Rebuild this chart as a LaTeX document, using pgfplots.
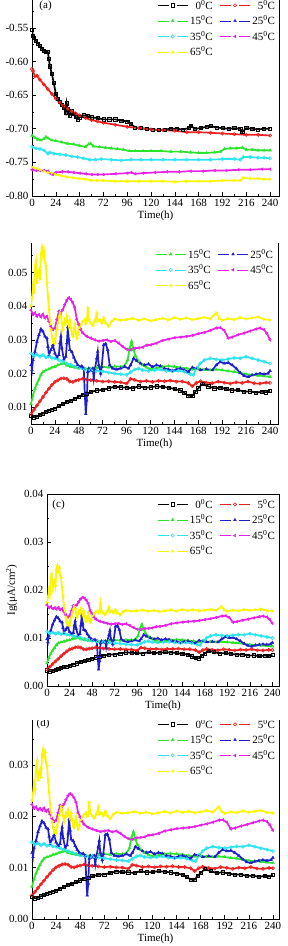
\documentclass[border=0pt]{standalone}
\usepackage{fontspec}
\setmainfont{Liberation Serif}
\usepackage{pgfplots}
\usepackage{pgfplotstable}
\pgfplotsset{compat=1.18}

\definecolor{cRed}{RGB}{238,32,32}
\definecolor{cGreen}{RGB}{45,228,45}
\definecolor{cBlue}{RGB}{30,30,205}
\definecolor{cCyan}{RGB}{45,228,240}
\definecolor{cMag}{RGB}{232,35,232}
\definecolor{cYel}{RGB}{250,246,0}

% ---------- potential (a) ----------
\pgfplotstableread{
t v
0 -0.553
1 -0.562
2 -0.565
4 -0.569
6 -0.573
8 -0.577
10 -0.581
12 -0.584
14 -0.586
16 -0.586
17 -0.596
18 -0.607
20 -0.618
22 -0.632
24 -0.648
26 -0.655
28 -0.660
30 -0.664
32 -0.668
34 -0.676
35 -0.662
36 -0.671
38 -0.680
40 -0.674
42 -0.678
44 -0.682
46 -0.686
48 -0.683
52 -0.680
56 -0.681
60 -0.683
66 -0.684
72 -0.686
78 -0.686
84 -0.686
90 -0.688
96 -0.689
100 -0.693
104 -0.698
110 -0.699
116 -0.700
122 -0.701
128 -0.702
134 -0.701
140 -0.700
146 -0.700
152 -0.701
158 -0.699
160 -0.695
164 -0.700
170 -0.699
176 -0.697
180 -0.696
186 -0.698
192 -0.699
198 -0.700
204 -0.699
210 -0.700
212 -0.705
216 -0.699
222 -0.700
228 -0.701
234 -0.700
240 -0.700
}\aZero
\pgfplotstableread{
t v
0 -0.611
1 -0.614
3 -0.622
5 -0.621
8 -0.627
12 -0.634
16 -0.641
20 -0.648
24 -0.655
28 -0.661
32 -0.666
36 -0.670
40 -0.674
44 -0.677
48 -0.680
54 -0.684
60 -0.687
66 -0.689
72 -0.691
84 -0.694
96 -0.697
108 -0.699
120 -0.701
132 -0.702
144 -0.703
156 -0.705
168 -0.705
180 -0.706
192 -0.707
204 -0.708
216 -0.709
228 -0.709
240 -0.710
}\aFive
\pgfplotstableread{
t v
0 -0.710
3 -0.713
6 -0.716
9 -0.717
12 -0.715
14 -0.712
16 -0.714
20 -0.717
24 -0.718
30 -0.720
36 -0.722
42 -0.723
48 -0.725
54 -0.727
57 -0.723
59 -0.722
62 -0.726
68 -0.727
74 -0.728
80 -0.729
86 -0.730
92 -0.731
98 -0.733
104 -0.733
112 -0.733
120 -0.733
130 -0.733
140 -0.734
150 -0.734
160 -0.735
168 -0.736
176 -0.736
184 -0.735
190 -0.734
194 -0.730
200 -0.729
206 -0.729
212 -0.728
216 -0.731
222 -0.731
228 -0.732
234 -0.732
240 -0.732
}\aFifteen
\pgfplotstableread{
t v
0 -0.727
4 -0.729
8 -0.730
12 -0.732
16 -0.737
18 -0.735
22 -0.737
28 -0.738
34 -0.739
40 -0.741
46 -0.742
52 -0.744
58 -0.746
64 -0.746
70 -0.745
80 -0.746
90 -0.747
100 -0.746
110 -0.746
120 -0.746
132 -0.746
144 -0.746
156 -0.746
168 -0.746
180 -0.746
192 -0.745
204 -0.745
210 -0.746
213 -0.742
220 -0.742
228 -0.743
234 -0.743
240 -0.744
}\aThirtyFive
\pgfplotstableread{
t v
0 -0.761
4 -0.762
8 -0.762
12 -0.762
16 -0.763
19 -0.767
21 -0.768
24 -0.765
30 -0.764
36 -0.764
42 -0.765
48 -0.766
54 -0.767
60 -0.768
66 -0.768
72 -0.768
84 -0.767
96 -0.766
100 -0.765
104 -0.767
112 -0.766
124 -0.765
136 -0.764
148 -0.764
160 -0.763
172 -0.763
184 -0.762
196 -0.762
208 -0.761
220 -0.761
232 -0.760
240 -0.760
}\aFortyFive
\pgfplotstableread{
t v
0 -0.757
4 -0.759
8 -0.761
12 -0.763
16 -0.765
20 -0.766
24 -0.768
30 -0.770
36 -0.772
42 -0.773
48 -0.774
54 -0.775
60 -0.777
66 -0.777
72 -0.777
84 -0.778
96 -0.778
108 -0.778
120 -0.778
132 -0.778
144 -0.779
156 -0.778
168 -0.778
180 -0.778
192 -0.777
204 -0.777
210 -0.777
213 -0.773
220 -0.774
228 -0.774
234 -0.775
240 -0.775
}\aSixtyFive

% ---------- current panels: columns b, c, d ----------
\pgfplotstableread{
t b c d
0 7.5e-3 3.26e-3 4.31e-3
3 7.0e-3 3.05e-3 4.03e-3
6 7.2e-3 3.13e-3 4.14e-3
9 7.7e-3 3.35e-3 4.43e-3
12 8.1e-3 3.52e-3 4.66e-3
15 8.6e-3 3.74e-3 4.95e-3
18 9.0e-3 3.92e-3 5.18e-3
21 9.3e-3 4.05e-3 5.35e-3
24 9.6e-3 4.18e-3 5.52e-3
28 10.3e-3 4.48e-3 5.92e-3
32 10.9e-3 4.74e-3 6.27e-3
36 11.6e-3 5.05e-3 6.67e-3
40 11.9e-3 5.18e-3 6.84e-3
44 12.5e-3 5.44e-3 7.19e-3
48 13.1e-3 5.70e-3 7.53e-3
52 13.7e-3 5.96e-3 7.88e-3
56 14.0e-3 6.09e-3 8.05e-3
60 14.5e-3 6.31e-3 8.34e-3
66 15.0e-3 6.53e-3 8.63e-3
72 15.1e-3 6.57e-3 8.68e-3
78 15.6e-3 6.79e-3 8.97e-3
84 16.1e-3 7.00e-3 9.26e-3
90 15.9e-3 6.92e-3 9.14e-3
96 15.8e-3 6.87e-3 9.09e-3
102 15.6e-3 6.79e-3 8.97e-3
108 16.2e-3 7.05e-3 9.32e-3
114 15.8e-3 6.87e-3 9.09e-3
120 15.9e-3 6.92e-3 9.14e-3
126 16.2e-3 7.05e-3 9.32e-3
132 16.0e-3 6.96e-3 9.20e-3
138 15.8e-3 6.87e-3 9.09e-3
144 15.4e-3 6.70e-3 8.86e-3
150 15.0e-3 6.53e-3 8.63e-3
154 14.2e-3 6.18e-3 8.17e-3
158 13.4e-3 5.83e-3 7.71e-3
162 13.3e-3 5.79e-3 7.65e-3
165 14.6e-3 6.35e-3 8.40e-3
168 15.6e-3 6.79e-3 8.97e-3
172 16.9e-3 7.35e-3 9.72e-3
178 16.2e-3 7.05e-3 9.32e-3
184 15.6e-3 6.79e-3 8.97e-3
190 15.8e-3 6.87e-3 9.09e-3
196 15.4e-3 6.70e-3 8.86e-3
202 15.0e-3 6.53e-3 8.63e-3
208 15.1e-3 6.57e-3 8.68e-3
214 14.6e-3 6.35e-3 8.40e-3
220 14.7e-3 6.39e-3 8.45e-3
226 14.3e-3 6.22e-3 8.22e-3
232 14.6e-3 6.35e-3 8.40e-3
236 14.4e-3 6.26e-3 8.28e-3
240 14.9e-3 6.48e-3 8.57e-3
}\tZero
\pgfplotstableread{
t b c d
0 8.0e-3 3.48e-3 4.60e-3
3 9.2e-3 4.00e-3 5.29e-3
6 10.5e-3 4.57e-3 6.04e-3
9 11.8e-3 5.13e-3 6.79e-3
12 13.0e-3 5.66e-3 7.48e-3
15 14.3e-3 6.22e-3 8.22e-3
18 15.5e-3 6.74e-3 8.91e-3
21 16.6e-3 7.22e-3 9.55e-3
24 17.5e-3 7.61e-3 10.06e-3
27 18.0e-3 7.83e-3 10.35e-3
30 18.5e-3 8.05e-3 10.64e-3
33 18.6e-3 8.09e-3 10.70e-3
36 18.4e-3 8.00e-3 10.58e-3
39 17.6e-3 7.66e-3 10.12e-3
42 17.5e-3 7.61e-3 10.06e-3
45 17.9e-3 7.79e-3 10.29e-3
48 18.1e-3 7.87e-3 10.41e-3
52 18.5e-3 8.05e-3 10.64e-3
56 18.2e-3 7.92e-3 10.47e-3
60 18.0e-3 7.83e-3 10.35e-3
66 17.8e-3 7.74e-3 10.24e-3
72 17.6e-3 7.66e-3 10.12e-3
78 17.7e-3 7.70e-3 10.18e-3
84 17.5e-3 7.61e-3 10.06e-3
90 17.4e-3 7.57e-3 10.01e-3
96 17.0e-3 7.40e-3 9.78e-3
100 18.4e-3 8.00e-3 10.58e-3
104 18.1e-3 7.87e-3 10.41e-3
110 17.6e-3 7.66e-3 10.12e-3
116 17.8e-3 7.74e-3 10.24e-3
122 17.5e-3 7.61e-3 10.06e-3
128 17.8e-3 7.74e-3 10.24e-3
134 17.7e-3 7.70e-3 10.18e-3
140 17.9e-3 7.79e-3 10.29e-3
146 17.6e-3 7.66e-3 10.12e-3
152 17.6e-3 7.66e-3 10.12e-3
158 17.2e-3 7.48e-3 9.89e-3
162 16.2e-3 7.05e-3 9.32e-3
166 17.2e-3 7.48e-3 9.89e-3
170 17.7e-3 7.70e-3 10.18e-3
176 17.3e-3 7.53e-3 9.95e-3
182 17.1e-3 7.44e-3 9.83e-3
188 17.6e-3 7.66e-3 10.12e-3
194 17.3e-3 7.53e-3 9.95e-3
200 17.0e-3 7.40e-3 9.78e-3
206 17.4e-3 7.57e-3 10.01e-3
212 17.2e-3 7.48e-3 9.89e-3
218 17.6e-3 7.66e-3 10.12e-3
224 17.1e-3 7.44e-3 9.83e-3
230 17.0e-3 7.40e-3 9.78e-3
236 17.3e-3 7.53e-3 9.95e-3
240 17.2e-3 7.48e-3 9.89e-3
}\tFive
\pgfplotstableread{
t b c d
0 11.0e-3 4.79e-3 6.33e-3
2 13.5e-3 5.87e-3 7.76e-3
4 15.5e-3 6.74e-3 8.91e-3
6 17.0e-3 7.40e-3 9.78e-3
8 18.3e-3 7.96e-3 10.52e-3
10 19.6e-3 8.53e-3 11.27e-3
12 20.5e-3 8.92e-3 11.79e-3
15 21.0e-3 9.14e-3 12.08e-3
18 21.3e-3 9.27e-3 12.25e-3
21 21.8e-3 9.48e-3 12.54e-3
24 22.0e-3 9.57e-3 12.65e-3
27 22.5e-3 9.79e-3 12.94e-3
30 22.8e-3 9.92e-3 13.11e-3
33 23.0e-3 10.01e-3 13.23e-3
36 22.4e-3 9.74e-3 12.88e-3
40 22.0e-3 9.57e-3 12.65e-3
44 21.8e-3 9.48e-3 12.54e-3
48 21.6e-3 9.40e-3 12.42e-3
54 21.5e-3 9.35e-3 12.36e-3
60 21.4e-3 9.31e-3 12.31e-3
66 21.7e-3 9.44e-3 12.48e-3
72 22.0e-3 9.57e-3 12.65e-3
78 21.8e-3 9.48e-3 12.54e-3
84 22.1e-3 9.61e-3 12.71e-3
90 22.0e-3 9.57e-3 12.65e-3
94 22.3e-3 9.70e-3 12.82e-3
97 24.0e-3 10.44e-3 13.80e-3
99 27.5e-3 11.96e-3 15.81e-3
101 29.5e-3 12.83e-3 16.96e-3
103 27.0e-3 11.75e-3 15.53e-3
105 25.2e-3 10.96e-3 14.49e-3
108 23.6e-3 10.27e-3 13.57e-3
112 22.5e-3 9.79e-3 12.94e-3
116 21.8e-3 9.48e-3 12.54e-3
120 21.2e-3 9.22e-3 12.19e-3
126 21.6e-3 9.40e-3 12.42e-3
132 22.0e-3 9.57e-3 12.65e-3
138 22.2e-3 9.66e-3 12.77e-3
144 22.0e-3 9.57e-3 12.65e-3
150 21.8e-3 9.48e-3 12.54e-3
156 21.5e-3 9.35e-3 12.36e-3
162 21.2e-3 9.22e-3 12.19e-3
168 21.4e-3 9.31e-3 12.31e-3
174 21.1e-3 9.18e-3 12.13e-3
180 21.0e-3 9.14e-3 12.08e-3
186 21.2e-3 9.22e-3 12.19e-3
192 21.0e-3 9.14e-3 12.08e-3
198 20.7e-3 9.00e-3 11.90e-3
204 20.5e-3 8.92e-3 11.79e-3
210 20.2e-3 8.79e-3 11.62e-3
216 19.8e-3 8.61e-3 11.39e-3
222 19.6e-3 8.53e-3 11.27e-3
228 19.4e-3 8.44e-3 11.16e-3
234 19.2e-3 8.35e-3 11.04e-3
240 19.0e-3 8.27e-3 10.93e-3
}\tFifteen
\pgfplotstableread{
t b c d
0 22.5e-3 9.79e-3 12.94e-3
1 21.0e-3 9.14e-3 12.08e-3
2 24.0e-3 10.44e-3 13.80e-3
4 26.5e-3 11.53e-3 15.24e-3
6 29.5e-3 12.83e-3 16.96e-3
8 31.5e-3 13.70e-3 18.11e-3
10 33.2e-3 14.44e-3 19.09e-3
12 32.5e-3 14.14e-3 18.69e-3
14 31.0e-3 13.49e-3 17.83e-3
16 30.5e-3 13.27e-3 17.54e-3
17 28.0e-3 12.18e-3 16.10e-3
18 25.5e-3 11.09e-3 14.66e-3
20 27.0e-3 11.75e-3 15.53e-3
22 28.5e-3 12.40e-3 16.39e-3
24 26.0e-3 11.31e-3 14.95e-3
26 24.8e-3 10.79e-3 14.26e-3
28 25.5e-3 11.09e-3 14.66e-3
29 29.0e-3 12.62e-3 16.68e-3
30 31.0e-3 13.49e-3 17.83e-3
31 27.5e-3 11.96e-3 15.81e-3
33 24.2e-3 10.53e-3 13.92e-3
35 25.0e-3 10.88e-3 14.38e-3
36 29.0e-3 12.62e-3 16.68e-3
37 33.8e-3 14.70e-3 19.44e-3
38 30.0e-3 13.05e-3 17.25e-3
39 27.0e-3 11.75e-3 15.53e-3
41 26.5e-3 11.53e-3 15.24e-3
43 24.8e-3 10.79e-3 14.26e-3
45 23.5e-3 10.22e-3 13.51e-3
47 22.5e-3 9.79e-3 12.94e-3
49 22.0e-3 9.57e-3 12.65e-3
51 22.2e-3 9.66e-3 12.77e-3
53 21.5e-3 9.35e-3 12.36e-3
54 14.0e-3 6.09e-3 8.05e-3
55 8.0e-3 3.48e-3 4.60e-3
56 12.0e-3 5.22e-3 6.90e-3
57 20.5e-3 8.92e-3 11.79e-3
58 21.5e-3 9.35e-3 12.36e-3
60 20.8e-3 9.05e-3 11.96e-3
62 21.5e-3 9.35e-3 12.36e-3
63 18.5e-3 8.05e-3 10.64e-3
64 21.0e-3 9.14e-3 12.08e-3
66 24.5e-3 10.66e-3 14.09e-3
67 26.5e-3 11.53e-3 15.24e-3
68 22.5e-3 9.79e-3 12.94e-3
70 20.0e-3 8.70e-3 11.50e-3
71 22.0e-3 9.57e-3 12.65e-3
73 28.5e-3 12.40e-3 16.39e-3
75 28.8e-3 12.53e-3 16.56e-3
77 27.0e-3 11.75e-3 15.53e-3
79 22.5e-3 9.79e-3 12.94e-3
82 21.5e-3 9.35e-3 12.36e-3
86 21.2e-3 9.22e-3 12.19e-3
90 21.5e-3 9.35e-3 12.36e-3
94 22.0e-3 9.57e-3 12.65e-3
98 21.5e-3 9.35e-3 12.36e-3
100 22.5e-3 9.79e-3 12.94e-3
103 24.5e-3 10.66e-3 14.09e-3
106 23.8e-3 10.35e-3 13.69e-3
110 23.0e-3 10.01e-3 13.23e-3
114 22.5e-3 9.79e-3 12.94e-3
118 22.8e-3 9.92e-3 13.11e-3
122 22.0e-3 9.57e-3 12.65e-3
126 22.5e-3 9.79e-3 12.94e-3
130 22.2e-3 9.66e-3 12.77e-3
134 21.5e-3 9.35e-3 12.36e-3
138 21.2e-3 9.22e-3 12.19e-3
142 20.8e-3 9.05e-3 11.96e-3
146 21.2e-3 9.22e-3 12.19e-3
150 21.5e-3 9.35e-3 12.36e-3
154 21.0e-3 9.14e-3 12.08e-3
158 20.5e-3 8.92e-3 11.79e-3
162 21.8e-3 9.48e-3 12.54e-3
166 21.5e-3 9.35e-3 12.36e-3
170 21.0e-3 9.14e-3 12.08e-3
176 21.3e-3 9.27e-3 12.25e-3
182 21.0e-3 9.14e-3 12.08e-3
186 22.5e-3 9.79e-3 12.94e-3
190 23.5e-3 10.22e-3 13.51e-3
194 23.0e-3 10.01e-3 13.23e-3
198 23.2e-3 10.09e-3 13.34e-3
202 22.5e-3 9.79e-3 12.94e-3
206 21.5e-3 9.35e-3 12.36e-3
210 20.2e-3 8.79e-3 11.62e-3
214 19.3e-3 8.40e-3 11.10e-3
218 19.0e-3 8.27e-3 10.93e-3
222 19.5e-3 8.48e-3 11.21e-3
226 19.8e-3 8.61e-3 11.39e-3
230 20.0e-3 8.70e-3 11.50e-3
234 19.8e-3 8.61e-3 11.39e-3
238 20.0e-3 8.70e-3 11.50e-3
240 20.8e-3 9.05e-3 11.96e-3
}\tTwentyFive
\pgfplotstableread{
t b c d
0 26.0e-3 11.31e-3 14.95e-3
3 25.2e-3 10.96e-3 14.49e-3
6 25.6e-3 11.14e-3 14.72e-3
9 25.0e-3 10.88e-3 14.38e-3
12 25.5e-3 11.09e-3 14.66e-3
15 24.8e-3 10.79e-3 14.26e-3
18 25.2e-3 10.96e-3 14.49e-3
21 24.6e-3 10.70e-3 14.15e-3
24 24.5e-3 10.66e-3 14.09e-3
28 24.0e-3 10.44e-3 13.80e-3
32 23.5e-3 10.22e-3 13.51e-3
36 23.0e-3 10.01e-3 13.23e-3
40 22.6e-3 9.83e-3 13.00e-3
44 22.0e-3 9.57e-3 12.65e-3
48 21.6e-3 9.40e-3 12.42e-3
54 21.2e-3 9.22e-3 12.19e-3
60 21.0e-3 9.14e-3 12.08e-3
66 20.8e-3 9.05e-3 11.96e-3
72 20.6e-3 8.96e-3 11.85e-3
78 20.3e-3 8.83e-3 11.67e-3
84 20.0e-3 8.70e-3 11.50e-3
90 19.8e-3 8.61e-3 11.39e-3
96 19.6e-3 8.53e-3 11.27e-3
100 20.4e-3 8.87e-3 11.73e-3
104 21.2e-3 9.22e-3 12.19e-3
108 21.5e-3 9.35e-3 12.36e-3
112 21.0e-3 9.14e-3 12.08e-3
118 20.8e-3 9.05e-3 11.96e-3
124 21.0e-3 9.14e-3 12.08e-3
130 21.2e-3 9.22e-3 12.19e-3
136 20.8e-3 9.05e-3 11.96e-3
142 20.6e-3 8.96e-3 11.85e-3
148 20.8e-3 9.05e-3 11.96e-3
154 20.5e-3 8.92e-3 11.79e-3
160 19.8e-3 8.61e-3 11.39e-3
163 19.6e-3 8.53e-3 11.27e-3
166 21.5e-3 9.35e-3 12.36e-3
170 23.0e-3 10.01e-3 13.23e-3
174 24.0e-3 10.44e-3 13.80e-3
180 24.5e-3 10.66e-3 14.09e-3
186 24.2e-3 10.53e-3 13.92e-3
192 24.0e-3 10.44e-3 13.80e-3
198 24.3e-3 10.57e-3 13.97e-3
204 24.6e-3 10.70e-3 14.15e-3
210 24.5e-3 10.66e-3 14.09e-3
216 25.0e-3 10.88e-3 14.38e-3
222 24.5e-3 10.66e-3 14.09e-3
228 24.0e-3 10.44e-3 13.80e-3
234 23.5e-3 10.22e-3 13.51e-3
240 23.0e-3 10.01e-3 13.23e-3
}\tThirtyFive
\pgfplotstableread{
t b c d
0 38.8e-3 16.88e-3 22.31e-3
2 37.5e-3 16.31e-3 21.56e-3
4 38.0e-3 16.53e-3 21.85e-3
6 37.0e-3 16.10e-3 21.28e-3
8 37.5e-3 16.31e-3 21.56e-3
10 36.8e-3 16.01e-3 21.16e-3
12 37.6e-3 16.36e-3 21.62e-3
14 36.5e-3 15.88e-3 20.99e-3
16 37.0e-3 16.10e-3 21.28e-3
18 35.5e-3 15.44e-3 20.41e-3
20 34.0e-3 14.79e-3 19.55e-3
22 33.0e-3 14.36e-3 18.98e-3
24 33.5e-3 14.57e-3 19.26e-3
26 36.0e-3 15.66e-3 20.70e-3
28 38.5e-3 16.75e-3 22.14e-3
30 38.0e-3 16.53e-3 21.85e-3
32 39.0e-3 16.97e-3 22.43e-3
34 40.5e-3 17.62e-3 23.29e-3
36 41.8e-3 18.18e-3 24.04e-3
38 42.5e-3 18.49e-3 24.44e-3
40 42.0e-3 18.27e-3 24.15e-3
42 41.0e-3 17.84e-3 23.58e-3
44 39.5e-3 17.18e-3 22.71e-3
46 36.0e-3 15.66e-3 20.70e-3
48 34.5e-3 15.01e-3 19.84e-3
50 33.0e-3 14.36e-3 18.98e-3
52 32.0e-3 13.92e-3 18.40e-3
56 31.0e-3 13.49e-3 17.83e-3
60 30.5e-3 13.27e-3 17.54e-3
64 30.0e-3 13.05e-3 17.25e-3
68 29.6e-3 12.88e-3 17.02e-3
72 29.8e-3 12.96e-3 17.14e-3
76 30.0e-3 13.05e-3 17.25e-3
80 29.5e-3 12.83e-3 16.96e-3
84 29.8e-3 12.96e-3 17.14e-3
88 29.0e-3 12.62e-3 16.68e-3
92 28.0e-3 12.18e-3 16.10e-3
96 27.2e-3 11.83e-3 15.64e-3
100 27.0e-3 11.75e-3 15.53e-3
104 27.5e-3 11.96e-3 15.81e-3
108 27.6e-3 12.01e-3 15.87e-3
112 27.8e-3 12.09e-3 15.99e-3
116 28.4e-3 12.35e-3 16.33e-3
120 28.5e-3 12.40e-3 16.39e-3
126 29.0e-3 12.62e-3 16.68e-3
132 29.8e-3 12.96e-3 17.14e-3
138 30.2e-3 13.14e-3 17.37e-3
144 30.6e-3 13.31e-3 17.60e-3
150 30.8e-3 13.40e-3 17.71e-3
156 31.0e-3 13.49e-3 17.83e-3
162 31.3e-3 13.62e-3 18.00e-3
168 31.8e-3 13.83e-3 18.29e-3
174 32.2e-3 14.01e-3 18.52e-3
180 32.8e-3 14.27e-3 18.86e-3
186 33.5e-3 14.57e-3 19.26e-3
190 33.6e-3 14.62e-3 19.32e-3
194 32.8e-3 14.27e-3 18.86e-3
198 30.5e-3 13.27e-3 17.54e-3
202 30.8e-3 13.40e-3 17.71e-3
208 31.5e-3 13.70e-3 18.11e-3
214 32.0e-3 13.92e-3 18.40e-3
220 32.6e-3 14.18e-3 18.75e-3
226 33.2e-3 14.44e-3 19.09e-3
230 33.5e-3 14.57e-3 19.26e-3
234 33.0e-3 14.36e-3 18.98e-3
237 31.8e-3 13.83e-3 18.29e-3
240 30.0e-3 13.05e-3 17.25e-3
}\tFortyFive
\pgfplotstableread{
t b c d
0 40.0e-3 17.40e-3 23.00e-3
1 42.5e-3 18.49e-3 24.44e-3
2 46.0e-3 20.01e-3 26.45e-3
3 44.0e-3 19.14e-3 25.30e-3
4 52.0e-3 22.62e-3 29.90e-3
5 53.5e-3 23.27e-3 30.76e-3
6 47.0e-3 20.45e-3 27.03e-3
7 49.5e-3 21.53e-3 28.46e-3
8 50.5e-3 21.97e-3 29.04e-3
9 48.0e-3 20.88e-3 27.60e-3
10 55.5e-3 24.14e-3 31.91e-3
11 57.5e-3 25.01e-3 33.06e-3
12 55.0e-3 23.93e-3 31.63e-3
13 56.5e-3 24.58e-3 32.49e-3
14 53.0e-3 23.06e-3 30.48e-3
15 52.0e-3 22.62e-3 29.90e-3
16 47.0e-3 20.45e-3 27.03e-3
17 43.0e-3 18.71e-3 24.73e-3
18 39.0e-3 16.97e-3 22.43e-3
19 36.0e-3 15.66e-3 20.70e-3
20 33.0e-3 14.36e-3 18.98e-3
21 31.0e-3 13.49e-3 17.83e-3
22 29.2e-3 12.70e-3 16.79e-3
23 30.0e-3 13.05e-3 17.25e-3
24 29.0e-3 12.62e-3 16.68e-3
25 31.5e-3 13.70e-3 18.11e-3
26 33.0e-3 14.36e-3 18.98e-3
27 35.0e-3 15.23e-3 20.13e-3
28 36.5e-3 15.88e-3 20.99e-3
29 38.0e-3 16.53e-3 21.85e-3
30 37.0e-3 16.10e-3 21.28e-3
31 35.0e-3 15.23e-3 20.13e-3
32 33.0e-3 14.36e-3 18.98e-3
33 34.5e-3 15.01e-3 19.84e-3
34 36.0e-3 15.66e-3 20.70e-3
35 35.2e-3 15.31e-3 20.24e-3
36 37.0e-3 16.10e-3 21.28e-3
37 35.5e-3 15.44e-3 20.41e-3
38 34.0e-3 14.79e-3 19.55e-3
39 35.8e-3 15.57e-3 20.59e-3
40 33.5e-3 14.57e-3 19.26e-3
41 31.5e-3 13.70e-3 18.11e-3
42 31.0e-3 13.49e-3 17.83e-3
43 33.0e-3 14.36e-3 18.98e-3
44 34.5e-3 15.01e-3 19.84e-3
45 32.0e-3 13.92e-3 18.40e-3
46 30.5e-3 13.27e-3 17.54e-3
47 31.5e-3 13.70e-3 18.11e-3
48 33.5e-3 14.57e-3 19.26e-3
50 34.5e-3 15.01e-3 19.84e-3
52 35.5e-3 15.44e-3 20.41e-3
54 36.0e-3 15.66e-3 20.70e-3
55 34.8e-3 15.14e-3 20.01e-3
56 35.5e-3 15.44e-3 20.41e-3
57 39.5e-3 17.18e-3 22.71e-3
58 36.0e-3 15.66e-3 20.70e-3
60 35.0e-3 15.23e-3 20.13e-3
62 34.2e-3 14.88e-3 19.67e-3
64 35.5e-3 15.44e-3 20.41e-3
66 37.8e-3 16.44e-3 21.74e-3
67 35.5e-3 15.44e-3 20.41e-3
69 36.0e-3 15.66e-3 20.70e-3
71 35.0e-3 15.23e-3 20.13e-3
73 36.5e-3 15.88e-3 20.99e-3
75 35.0e-3 15.23e-3 20.13e-3
78 34.0e-3 14.79e-3 19.55e-3
81 35.5e-3 15.44e-3 20.41e-3
84 36.2e-3 15.75e-3 20.82e-3
90 35.8e-3 15.57e-3 20.59e-3
96 36.0e-3 15.66e-3 20.70e-3
102 36.4e-3 15.83e-3 20.93e-3
108 35.8e-3 15.57e-3 20.59e-3
114 36.2e-3 15.75e-3 20.82e-3
120 35.6e-3 15.49e-3 20.47e-3
126 36.0e-3 15.66e-3 20.70e-3
132 36.4e-3 15.83e-3 20.93e-3
138 35.9e-3 15.62e-3 20.64e-3
144 36.6e-3 15.92e-3 21.05e-3
150 36.1e-3 15.70e-3 20.76e-3
156 36.5e-3 15.88e-3 20.99e-3
162 36.0e-3 15.66e-3 20.70e-3
168 36.3e-3 15.79e-3 20.87e-3
174 36.7e-3 15.96e-3 21.10e-3
180 36.2e-3 15.75e-3 20.82e-3
186 38.0e-3 16.53e-3 21.85e-3
189 36.4e-3 15.83e-3 20.93e-3
192 35.8e-3 15.57e-3 20.59e-3
198 36.3e-3 15.79e-3 20.87e-3
204 36.0e-3 15.66e-3 20.70e-3
210 36.6e-3 15.92e-3 21.05e-3
216 36.2e-3 15.75e-3 20.82e-3
222 36.5e-3 15.88e-3 20.99e-3
228 36.8e-3 16.01e-3 21.16e-3
234 36.1e-3 15.70e-3 20.76e-3
240 35.9e-3 15.62e-3 20.64e-3
}\tSixtyFive

\newcommand{\lbl}{\fontsize{11}{12}\selectfont}

\pgfplotsset{
  ser/.style={line width=1.7pt, mark size=1.6pt},
  s0/.style={ser, black, mark=square, mark options={solid, line width=0.6pt, fill=white}},
  s5/.style={ser, cRed, mark=o, mark options={solid, line width=0.6pt}},
  s15/.style={ser, cGreen, mark=triangle*, mark options={solid, line width=0.4pt}},
  s25/.style={ser, cBlue, mark=triangle*, mark options={solid, line width=0.4pt}},
  s35/.style={ser, cCyan, mark=o, mark options={solid, line width=0.6pt}},
  s45/.style={ser, cMag, mark=triangle*, mark options={solid, line width=0.4pt, rotate=90}},
  s65/.style={ser, cYel, mark=triangle*, mark options={solid, line width=0.4pt, rotate=-90}},
  panel/.style={
    scale only axis, anchor=south west, xmin=0,
    xtick={0,24,...,240}, minor x tick num=1, minor y tick num=1,
    xtick pos=bottom, ytick pos=left, tick align=inside,
    major tick length=4pt, minor tick length=2.2pt,
    every tick/.style={black, line width=0.6pt},
    axis line style={line width=0.8pt},
    scaled y ticks=false,
    /pgf/number format/assume math mode=true,
    yticklabel style={/pgf/number format/.cd, fixed, fixed zerofill, precision=2},
    tick label style={font=\lbl},
    label style={font=\lbl},
    xlabel={Time(h)},
    xlabel style={yshift=3pt},
    legend columns=2,
    legend cell align=right,
    legend style={draw=none, fill=none, inner sep=0pt, outer sep=0pt,
      row sep=1pt, font=\lbl, anchor=north east,
      /tikz/every even column/.append style={column sep=5pt}},
    legend image code/.code={
      \draw[##1,mark=none] (0pt,0pt) -- (11pt,0pt);
      \draw[##1,mark=none] (19pt,0pt) -- (30pt,0pt);
      \draw[##1] plot coordinates {(15pt,0pt)};
    },
    legend image post style={line width=0.6pt},
  },
}

% all seven temperatures from one column of the tables
\newcommand{\allseries}[2]{%
  \addplot[s0,#2] table[x=t,y=#1]{\tZero};
  \addplot[s5,#2] table[x=t,y=#1]{\tFive};
  \addplot[s15] table[x=t,y=#1]{\tFifteen};
  \addplot[s25] table[x=t,y=#1]{\tTwentyFive};
  \addplot[s35] table[x=t,y=#1]{\tThirtyFive};
  \addplot[s45] table[x=t,y=#1]{\tFortyFive};
  \addplot[s65] table[x=t,y=#1]{\tSixtyFive};
}
\newcommand{\fulllegend}{\legend{0\textsuperscript{0}C,5\textsuperscript{0}C,15\textsuperscript{0}C,25\textsuperscript{0}C,35\textsuperscript{0}C,45\textsuperscript{0}C,65\textsuperscript{0}C}}

\begin{document}
\begin{tikzpicture}
\fill[white] (0pt,0pt) rectangle (288pt,946pt);
\useasboundingbox (0pt,0pt) rectangle (288pt,946pt);

% (a) open-circuit potential
\begin{scope}
\clip (0pt,705pt) rectangle (288pt,946pt);
\begin{axis}[panel, at={(32pt,750pt)}, width=247pt, height=201.6pt,
  xmax=249, ymin=-0.80, ymax=-0.50, ytick={-0.80,-0.75,-0.70,-0.65,-0.60,-0.55,-0.50},
  yticklabels={-0.80,-0.75,-0.70,-0.65,-0.60,-0.55,{}},
  legend style={at={(0.992,0.982)}}]
  \addplot[s0] table[x=t,y=v]{\aZero};
  \addplot[s5] table[x=t,y=v]{\aFive};
  \addplot[s15] table[x=t,y=v]{\aFifteen};
  \addplot[s25] coordinates {(-50,-0.9)};
  \addplot[s35] table[x=t,y=v]{\aThirtyFive};
  \addplot[s45] table[x=t,y=v]{\aFortyFive};
  \addplot[s65] table[x=t,y=v]{\aSixtyFive};
  \fulllegend
  \node[font=\lbl] at (axis description cs:0.055,0.942) {(a)};
\end{axis}
\end{scope}

% (b)
\begin{scope}
\clip (0pt,465pt) rectangle (288pt,702pt);
\begin{axis}[panel, at={(31pt,522pt)}, width=247pt, height=185.2pt,
  xmax=248, ymin=0.005, ymax=0.060, ytick={0.01,0.02,0.03,0.04,0.05,0.06},
  yticklabels={0.01,0.02,0.03,0.04,0.05,{}},
  legend style={at={(0.988,0.956)}}]
  \allseries{b}{forget plot}
  \legend{15\textsuperscript{0}C,25\textsuperscript{0}C,35\textsuperscript{0}C,45\textsuperscript{0}C,65\textsuperscript{0}C}
\end{axis}
\end{scope}

% (c)
\begin{scope}
\clip (0pt,226pt) rectangle (288pt,465pt);
\begin{axis}[panel, at={(47pt,260pt)}, width=232pt, height=192pt,
  xmax=247, ymin=0, ymax=0.04, ytick={0,0.01,...,0.041},
  ylabel={Ig(μA/cm\textsuperscript{2})},
  legend style={at={(0.991,0.984)}}]
  \allseries{c}{}
  \fulllegend
  \node[font=\lbl] at (axis description cs:0.05,0.943) {(c)};
\end{axis}
\end{scope}

% (d)
\begin{scope}
\clip (0pt,0pt) rectangle (288pt,225pt);
\begin{axis}[panel, at={(32pt,27pt)}, width=247pt, height=205.3pt,
  xmax=246, ymin=0, ymax=0.04, ytick={0,0.01,0.02,0.03,0.04},
  yticklabels={0.00,0.01,0.02,0.03,{}},
  legend style={at={(0.992,0.984)}}]
  \allseries{d}{}
  \fulllegend
  \node[font=\lbl] at (axis description cs:0.045,0.951) {(d)};
\end{axis}
\end{scope}
\end{tikzpicture}
\end{document}
